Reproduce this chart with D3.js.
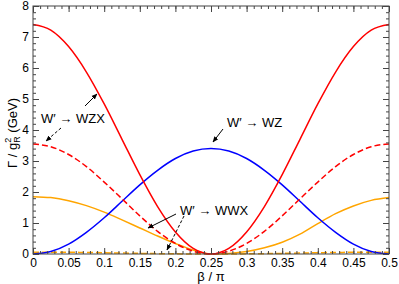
<!DOCTYPE html>
<html><head><meta charset="utf-8">
<script src="https://cdn.jsdelivr.net/npm/d3@7"></script>
<style>body{margin:0;background:#fff}svg{display:block}text{font-family:"Liberation Sans",Arial,sans-serif;fill:#000}</style>
</head><body><svg id="c" width="399" height="284"></svg>
<script>
const betaOverPi = [0,0.025,0.05,0.075,0.1,0.125,0.15,0.175,0.2,0.225,0.25,0.275,0.3,0.325,0.35,0.375,0.4,0.425,0.45,0.475,0.5];
const wzx        = [7.40,7.22,6.69,5.87,4.84,3.70,2.56,1.53,0.71,0.18,0,0.18,0.71,1.53,2.56,3.70,4.84,5.87,6.69,7.22,7.40];
const wzxDashed  = [3.55,3.46,3.21,2.82,2.32,1.78,1.23,0.73,0.34,0.09,0,0.09,0.34,0.73,1.23,1.78,2.32,2.82,3.21,3.46,3.55];
const wz         = [0,0.08,0.32,0.70,1.17,1.70,2.23,2.70,3.08,3.32,3.40,3.32,3.08,2.70,2.23,1.70,1.17,0.70,0.32,0.08,0];
const wwx        = [1.85,1.82,1.72,1.56,1.35,1.10,0.84,0.58,0.34,0.13,0,0.02,0.08,0.20,0.38,0.64,0.98,1.30,1.55,1.73,1.82];
const wwxDashed  = [0.06,0.06,0.055,0.05,0.04,0.03,0.02,0.012,0.005,0.001,0,0.001,0.005,0.012,0.02,0.03,0.04,0.05,0.055,0.06,0.06];
const xTicks = [0,0.05,0.1,0.15,0.2,0.25,0.3,0.35,0.4,0.45,0.5];
const yTicks = [0,1,2,3,4,5,6,7,8];

const svg = d3.select("#c");
const L=33,R=389,T=6,B=254;
const x = d3.scaleLinear().domain([0,0.5]).range([L,R]);
const y = d3.scaleLinear().domain([0,8]).range([B,T]);
const axisCol="#444";

const line = d3.line().x((d,i)=>x(betaOverPi[i])).y(d=>y(d)).curve(d3.curveMonotoneX);
function draw(vals,col,dash){
  svg.append("path").attr("d",line(vals)).attr("fill","none").attr("stroke",col)
    .attr("stroke-width",1.5).attr("stroke-dasharray",dash||null);
}
draw(wwxDashed,"#ffa500","6,3");
draw(wwx,"#ffa500");
draw(wz,"#0000ff");
draw(wzxDashed,"#ff0000","6,3");
draw(wzx,"#ff0000");

svg.append("rect").attr("x",L).attr("y",T).attr("width",R-L).attr("height",B-T)
  .attr("fill","none").attr("stroke",axisCol).attr("stroke-width",1);

const minorX = d3.range(0,0.5001,0.01);
const minorY = d3.range(0,8.001,0.2);
function tickAxis(axisFn, scale, vals, size, tx, ty, labels){
  const a = axisFn(scale).tickValues(vals).tickSize(-size).tickPadding(labels?3:0)
    .tickFormat(labels?(d=>String(d)):"");
  const g = svg.append("g").attr("transform",`translate(${tx},${ty})`).call(a);
  g.select(".domain").remove();
  g.selectAll("line").attr("stroke",axisCol);
  g.selectAll("text").attr("font-size",12).attr("font-family","Liberation Sans, Arial, sans-serif").attr("fill","#000");
  return g;
}
tickAxis(d3.axisBottom,x,minorX,3,0,B,false);
tickAxis(d3.axisBottom,x,xTicks,6,0,B,true).selectAll("text").attr("dy","0.8em");
tickAxis(d3.axisTop,x,minorX,3,0,T,false);
tickAxis(d3.axisTop,x,xTicks,6,0,T,false);
tickAxis(d3.axisLeft,y,minorY,3,L,0,false);
tickAxis(d3.axisLeft,y,yTicks,6,L,0,true).selectAll("text").attr("dx","-1");
tickAxis(d3.axisRight,y,minorY,3,R,0,false);
tickAxis(d3.axisRight,y,yTicks,6,R,0,false);

svg.append("text").attr("x",211).attr("y",281).attr("text-anchor","middle").attr("font-size",13).text("β / π");
const yt = svg.append("text").attr("transform","translate(17,133) rotate(-90)").attr("text-anchor","middle").attr("font-size",13);
yt.append("tspan").text("Γ / g");
yt.append("tspan").attr("font-size",9).attr("dy",-6).text("2");
yt.append("tspan").attr("font-size",9).attr("dx",-5).attr("dy",9).text("R");
yt.append("tspan").attr("dy",-3).text(" (GeV)");

const defs = svg.append("defs");
defs.append("marker").attr("id","ah").attr("viewBox","0 0 10 10").attr("refX",9).attr("refY",5)
  .attr("markerWidth",6).attr("markerHeight",6).attr("orient","auto")
  .append("path").attr("d","M0,1 L10,5 L0,9 Z").attr("fill","#000");
function arrow(x1,y1,x2,y2,dash){
  svg.append("line").attr("x1",x1).attr("y1",y1).attr("x2",x2).attr("y2",y2)
    .attr("stroke","#000").attr("stroke-width",1).attr("stroke-dasharray",dash?"3,2":null)
    .attr("marker-end","url(#ah)");
}
function label(tx,ty,txt){
  svg.append("text").attr("x",tx).attr("y",ty).attr("font-size",13).text(txt);
}
label(41,123,"W′ → WZX");
arrow(85,106,97,94);
arrow(61,128,46,141,true);
label(227,127,"W′ → WZ");
arrow(223,129,213,142);
label(180,215,"W′ → WWX");
arrow(176,214,148,228);
arrow(184,216,167,250,true);
</script></body></html>
